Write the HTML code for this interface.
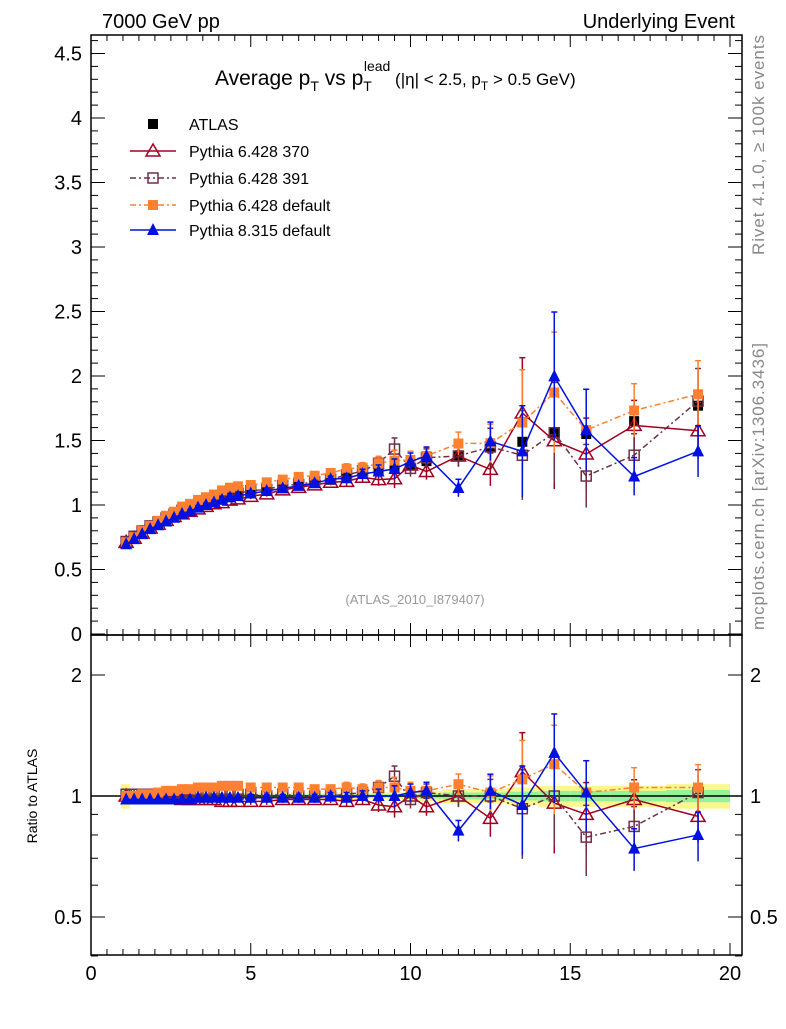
<!DOCTYPE html>
<html><head><meta charset="utf-8"><style>
body{margin:0;background:#fff;}
svg text{font-family:"Liberation Sans",sans-serif;}
</style></head><body>
<svg id="chart" width="786" height="1024" xmlns="http://www.w3.org/2000/svg">
<rect width="786" height="1024" fill="#fff"/>
<g id="band"></g>
<g id="frames"></g>
<g id="marks"></g>
<text x="102" y="28" font-size="20">7000 GeV pp</text>
<text x="735" y="28" font-size="20" text-anchor="end">Underlying Event</text>
<text x="215" y="85" font-size="21">Average p<tspan font-size="14" dy="6">T</tspan><tspan dy="-6"> vs p</tspan><tspan font-size="14" dy="6">T</tspan><tspan font-size="14" dx="-8" dy="-20">lead</tspan><tspan font-size="17" dy="14"> (|η| &lt; 2.5, p</tspan><tspan font-size="12" dy="5">T</tspan><tspan font-size="17" dy="-5"> &gt; 0.5 GeV)</tspan></text>
<text x="415" y="604" font-size="13" fill="#999" text-anchor="middle">(ATLAS_2010_I879407)</text>
<text transform="translate(764,255) rotate(-90)" font-size="17" fill="#888" textLength="220">Rivet 4.1.0, ≥ 100k events</text>
<text transform="translate(764,630) rotate(-90)" font-size="17" fill="#888" textLength="287">mcplots.cern.ch [arXiv:1306.3436]</text>
<text transform="translate(37,796) rotate(-90)" font-size="14" text-anchor="middle">Ratio to ATLAS</text>
<g id="legend"></g>
</svg>
<script>
const xs=[1.1,1.35,1.6,1.85,2.1,2.35,2.6,2.85,3.1,3.35,3.6,3.85,4.1,4.35,4.6,5,5.5,6,6.5,7,7.5,8,8.5,9,9.5,10,10.5,11.5,12.5,13.5,14.5,15.5,17,19];
const atlas=[.71,.75,.79,.83,.86,.89,.92,.95,.97,.99,1.01,1.03,1.05,1.07,1.08,1.10,1.12,1.14,1.16,1.18,1.20,1.22,1.24,1.26,1.28,1.31,1.34,1.38,1.45,1.49,1.56,1.55,1.65,1.77];
const atlasBand=[.07,.04,.03,.03,.03,.02,.02,.02,.02,.02,.02,.02,.02,.02,.02,.02,.02,.02,.02,.02,.02,.02,.02,.02,.02,.02,.03,.04,.04,.05,.06,.06,.06,.07];
const r370=[1.0,.99,.99,.99,.99,.99,.99,.98,.98,.98,.98,.98,.97,.97,.97,.97,.97,.98,.98,.98,.98,.97,.98,.95,.94,1.0,.94,1.0,.88,1.15,.96,.90,.98,.89];
const r391=[1.01,1.01,1.01,1.01,1.01,1.01,1.01,1.01,1.01,1.01,1.01,1.01,1.01,1.01,1.01,1.01,1.0,1.01,1.0,1.0,1.0,1.01,1.02,1.05,1.12,.98,1.02,1.0,1.0,.93,1.0,.79,.84,1.02];
const rdef=[1.0,1.0,1.01,1.01,1.02,1.03,1.03,1.04,1.04,1.05,1.05,1.05,1.06,1.06,1.06,1.05,1.05,1.05,1.05,1.04,1.04,1.05,1.04,1.05,1.05,1.03,1.03,1.07,1.02,1.1,1.2,1.02,1.05,1.05];
const rp8=[.98,.98,.98,.98,.98,.98,.98,.98,.98,.99,.99,.99,.99,.99,.99,.99,.99,.99,.99,.99,1.0,.99,1.0,1.0,1.0,1.02,1.03,.82,1.03,.95,1.28,1.02,.74,.80];
const errRel=[.01,.01,.01,.01,.01,.01,.01,.01,.01,.01,.01,.01,.01,.01,.01,.02,.02,.02,.02,.02,.02,.03,.03,.04,.06,.05,.05,.06,.1,.25,.25,.2,.12,.14];
const xTicks=[0,5,10,15,20];
const yTicks=[0,0.5,1,1.5,2,2.5,3,3.5,4,4.5];
const rTicks=[0.5,1,2];

const NS="http://www.w3.org/2000/svg";
const L=91,R=742,T=35,MB=635,RB=955;
const X=v=>91+v*31.95;
const Y=v=>634-v*129;
const YR=r=>796-121*Math.log2(r);
function el(tag,attrs,parent){const e=document.createElementNS(NS,tag);for(const k in attrs)e.setAttribute(k,attrs[k]);parent.appendChild(e);return e;}
const fr=document.getElementById('frames'),mk=document.getElementById('marks'),bd=document.getElementById('band'),lg=document.getElementById('legend');

for(let i=0;i<xs.length;i++){
  const x0=i==0?X(xs[0])-5:(X(xs[i-1])+X(xs[i]))/2;
  const x1=i==xs.length-1?X(20):(X(xs[i])+X(xs[i+1]))/2;
  const b=atlasBand[i];
  const y=el('rect',{x:x0,y:YR(1+b),width:x1-x0,height:YR(1-b)-YR(1+b),fill:'#fbf68d'},bd);
  
  
  const g=el('rect',{x:x0,y:YR(1+b*0.5),width:x1-x0,height:YR(1-b*0.5)-YR(1+b*0.5),fill:'#95f29a'},bd);
  
  
}
el('rect',{x:L,y:T,width:R-L,height:MB-T,fill:'none',stroke:'#000','stroke-width':1.5},fr);
el('rect',{x:L,y:MB,width:R-L,height:RB-MB,fill:'none',stroke:'#000','stroke-width':1.5},fr);
el('line',{x1:L,x2:R,y1:YR(1),y2:YR(1),stroke:'#000','stroke-width':1.5},fr);
for(let v=0;v<=20.01;v+=0.5){
  const major=Math.abs(v%5)<0.01, len=major?12:6;
  [[T,1],[MB,-1],[MB,1],[RB,-1]].forEach(([y0,d])=>el('line',{x1:X(v),x2:X(v),y1:y0,y2:y0+d*len,stroke:'#000'},fr));
}
xTicks.forEach(v=>{const t=el('text',{x:X(v),y:980,'font-size':20,'text-anchor':'middle'},fr);t.textContent=v;

});
for(let v=0;v<=4.61;v+=0.1){
  const major=Math.abs(v*2-Math.round(v*2))<0.01,len=major?14:7;
  el('line',{x1:L,x2:L+len,y1:Y(v),y2:Y(v),stroke:'#000'},fr);
  el('line',{x1:R,x2:R-len,y1:Y(v),y2:Y(v),stroke:'#000'},fr);
}
yTicks.forEach(v=>{const t=el('text',{x:82,y:Y(v)+7,'font-size':20,'text-anchor':'end'},fr);t.textContent=v;

});
[0.4,0.5,0.6,0.7,0.8,0.9,1,2].forEach(v=>{const len=rTicks.includes(v)?14:7;
 el('line',{x1:L,x2:L+len,y1:YR(v),y2:YR(v),stroke:'#000'},fr);el('line',{x1:R,x2:R-len,y1:YR(v),y2:YR(v),stroke:'#000'},fr);});
rTicks.forEach(v=>{[[82,'end'],[750,'start']].forEach(([x,a])=>{const t=el('text',{x:x,y:YR(v)+7,'font-size':20,'text-anchor':a},fr);t.textContent=v;

});});

function marker(type,color,x,y,g){
  if(type=='sq') el('rect',{x:x-5,y:y-5,width:10,height:10,fill:color},g);
  if(type=='osq') el('rect',{x:x-5,y:y-5,width:10,height:10,fill:'none',stroke:color,'stroke-width':1.5},g);
  if(type=='tri') el('polygon',{points:`${x},${y-7} ${x-6},${y+5} ${x+6},${y+5}`,fill:color},g);
  if(type=='otri') el('polygon',{points:`${x},${y-7} ${x-7},${y+5} ${x+7},${y+5}`,fill:'none',stroke:color,'stroke-width':1.5},g);
}
const models=[
 {name:'pythia-6428-370',r:r370,color:'#a00020',m:'otri',dash:''},
 {name:'pythia-6428-391',r:r391,color:'#6e3048',m:'osq',dash:'6,3,2,3'},
 {name:'pythia-6428-default',r:rdef,color:'#ff8030',m:'sq',dash:'6,3,2,3'},
 {name:'pythia-8315-default',r:rp8,color:'#0010e0',m:'tri',dash:''}];
const ga=el('g',{},mk);


xs.forEach((x,i)=>marker('sq','#000',X(x),Y(atlas[i]),ga));
models.forEach(md=>{
 ['main','ratio'].forEach(panel=>{
  const g=el('g',{},mk);
  
  
  const py=i=>panel=='main'?Y(atlas[i]*md.r[i]):YR(md.r[i]);
  const pyv=(i,f)=>panel=='main'?Y(atlas[i]*md.r[i]*f):YR(md.r[i]*f);
  el('polyline',{points:xs.map((x,i)=>X(x)+','+py(i)).join(' '),fill:'none',stroke:md.color,'stroke-width':1.5,'stroke-dasharray':md.dash},g);
  xs.forEach((x,i)=>{const e=errRel[i];
   if(e>0.015){el('line',{x1:X(x),x2:X(x),y1:pyv(i,1+e),y2:pyv(i,Math.max(0.3,1-e)),stroke:md.color,'stroke-width':1.5},g);
    el('line',{x1:X(x)-3,x2:X(x)+3,y1:pyv(i,1+e),y2:pyv(i,1+e),stroke:md.color,'stroke-width':1.5},g);}
   marker(md.m,md.color,X(x),py(i),g);});
 });
});
const ly=[124,151,178,205,230];
const lt=['ATLAS','Pythia 6.428 370','Pythia 6.428 391','Pythia 6.428 default','Pythia 8.315 default'];
lt.forEach((t,i)=>{
 const g=el('g',{},lg);
 
 
 if(i==0) marker('sq','#000',153,ly[i],g);
 else{const md=models[i-1];el('line',{x1:130,x2:176,y1:ly[i],y2:ly[i],stroke:md.color,'stroke-width':1.5,'stroke-dasharray':md.dash},g);marker(md.m,md.color,153,ly[i],g);}
 const tx=el('text',{x:189,y:ly[i]+6,'font-size':16},g);tx.textContent=t;
});
</script>
</body></html>
